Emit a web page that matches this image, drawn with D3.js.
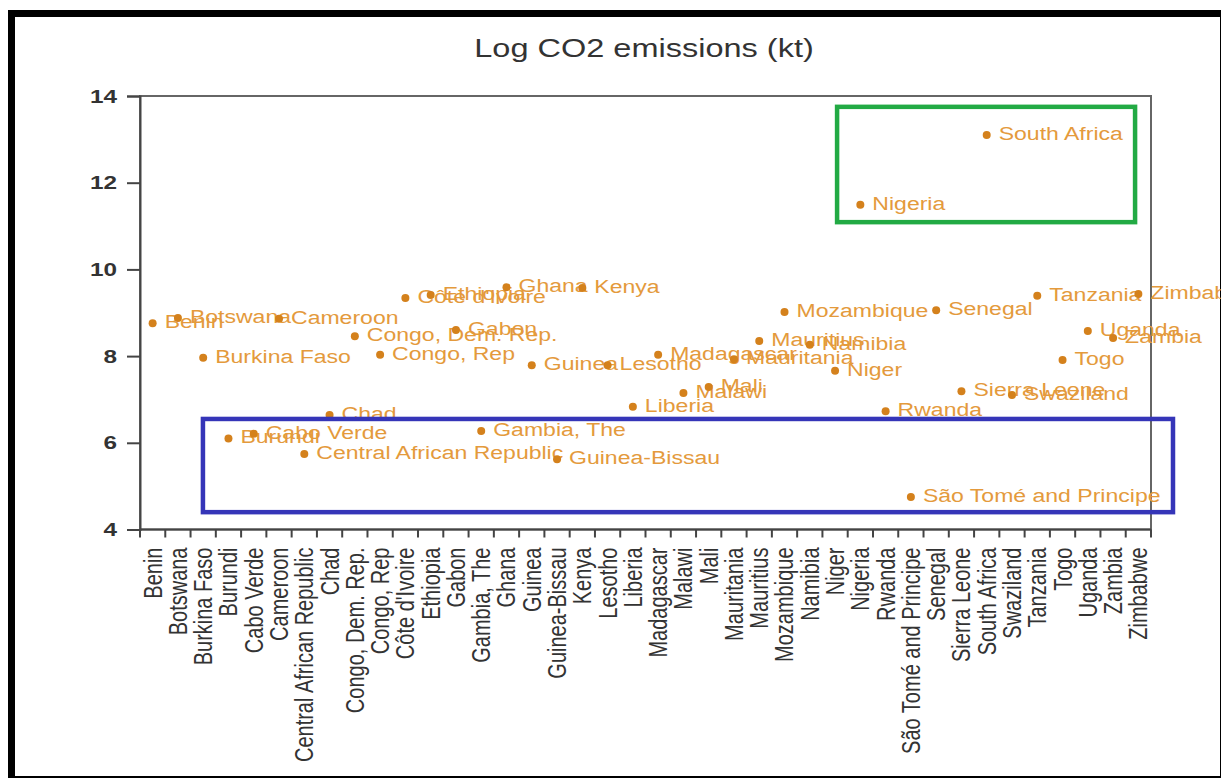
<!DOCTYPE html>
<html>
<head>
<meta charset="utf-8">
<script src="https://cdn.jsdelivr.net/npm/d3@7"></script>
<style>
html,body{margin:0;padding:0;background:#fff;}
svg{display:block;}
</style>
</head>
<body>
<svg id="chart" width="1221" height="778"></svg>
<script>
// ---- data ----
const countries = ["Benin","Botswana","Burkina Faso","Burundi","Cabo Verde","Cameroon","Central African Republic","Chad","Congo, Dem. Rep.","Congo, Rep","Côte d'Ivoire","Ethiopia","Gabon","Gambia, The","Ghana","Guinea","Guinea-Bissau","Kenya","Lesotho","Liberia","Madagascar","Malawi","Mali","Mauritania","Mauritius","Mozambique","Namibia","Niger","Nigeria","Rwanda","São Tomé and Principe","Senegal","Sierra Leone","South Africa","Swaziland","Tanzania","Togo","Uganda","Zambia","Zimbabwe"];
const pointLabels = ["Benin","Botswana","Burkina Faso","Burundi","Cabo Verde","Cameroon","Central African Republic","Chad","Congo, Dem. Rep.","Congo, Rep","Côte d'Ivoire","Ethiopia","Gabon","Gambia, The","Ghana","Guinea","Guinea-Bissau","Kenya","Lesotho","Liberia","Madagascar","Malawi","Mali","Mauritania","Mauritius","Mozambique","Namibia","Niger","Nigeria","Rwanda","São Tomé and Principe","Senegal","Sierra Leone","South Africa","Swaziland","Tanzania","Togo","Uganda","Zambia","Zimbabwe"];
const logCO2 = [8.76,8.88,7.96,6.10,6.21,8.86,5.74,6.64,8.46,8.03,9.34,9.41,8.60,6.27,9.59,7.79,5.62,9.57,7.79,6.83,8.03,7.15,7.29,7.93,8.35,9.02,8.26,7.66,11.49,6.73,4.75,9.06,7.19,13.10,7.10,9.39,7.91,8.58,8.42,9.43];
const yTicks = [4,6,8,10,12,14];
const chartTitle = "Log CO2 emissions (kt)";
// annotation boxes in data units: [x index start, x index end, y low, y high]
const greenBox = [27.58, 39.37, 11.09, 13.75];
const blueBox = [2.49, 40.87, 4.40, 6.55];

// ---- layout ----
const svg = d3.select("#chart");
const L = 140, R = 1151, T = 96, B = 529.5;
const stretch = 1.28;
const x = d3.scaleBand().domain(countries).range([L, R]).paddingInner(0).paddingOuter(0);
const xi = d3.scaleLinear().domain([0, countries.length]).range([L, R]);
const y = d3.scaleLinear().domain([4, 14]).range([B, T]);
const font = "'Liberation Sans', Arial, sans-serif";

// outer border
svg.append("rect").attr("x", 11.5).attr("y", 13.5).attr("width", 1212).attr("height", 766)
  .attr("fill", "none").attr("stroke", "#000").attr("stroke-width", 7);

// title
svg.append("text").attr("transform", `translate(644,57) scale(1.3,1)`)
  .attr("text-anchor", "middle").attr("font-family", font).attr("font-size", 25)
  .attr("fill", "#333").text(chartTitle);

// plot frame
svg.append("rect").attr("x", L).attr("y", T).attr("width", R - L).attr("height", B - T)
  .attr("fill", "none").attr("stroke", "#666").attr("stroke-width", 2);

// y axis
const yAxis = svg.append("g").attr("transform", `translate(${L},0)`)
  .call(d3.axisLeft(y).tickValues(yTicks).tickSize(13).tickPadding(10).tickFormat(d3.format("d")));
yAxis.select(".domain").attr("stroke", "#444").attr("stroke-width", 2);
yAxis.selectAll(".tick line").attr("stroke", "#444").attr("stroke-width", 2);
yAxis.selectAll(".tick text").each(function(d){
  const t = d3.select(this);
  const xx = +t.attr("x");
  t.attr("x", null).attr("transform", `translate(${xx},0) scale(${stretch},1)`)
   .attr("font-family", font).attr("font-size", 19).attr("fill", "#333").attr("font-weight", "bold");
});

// x axis (ticks at band boundaries)
const xg = svg.append("g").attr("transform", `translate(0,${B})`);
xg.append("line").attr("x1", L).attr("x2", R).attr("stroke", "#444").attr("stroke-width", 2);
xg.selectAll("line.tk").data(d3.range(countries.length + 1)).join("line").attr("class", "tk")
  .attr("x1", d => xi(d)).attr("x2", d => xi(d)).attr("y1", 0).attr("y2", 8)
  .attr("stroke", "#444").attr("stroke-width", 2);
xg.selectAll("text.lab").data(countries).join("text").attr("class", "lab")
  .attr("transform", d => `translate(${x(d) + x.bandwidth() / 2},18) scale(${stretch},1) rotate(-90)`)
  .attr("text-anchor", "end").attr("dy", "0.35em")
  .attr("font-family", font).attr("font-size", 20).attr("fill", "#333").text(d => d);

// points and labels
const pts = countries.map((c, i) => ({c, v: logCO2[i], lab: pointLabels[i]}));
const pg = svg.append("g");
pg.selectAll("text").data(pts).join("text")
  .attr("transform", d => `translate(${x(d.c) + x.bandwidth() / 2 + 12},${y(d.v) + 5}) scale(${stretch},1)`)
  .attr("font-family", font).attr("font-size", 18).attr("fill", "#E49A3C").text(d => d.lab);
pg.selectAll("circle").data(pts).join("circle")
  .attr("cx", d => x(d.c) + x.bandwidth() / 2).attr("cy", d => y(d.v)).attr("r", 4)
  .attr("fill", "#D4811C");

// annotation boxes
function box(b, color) {
  svg.append("rect").attr("x", xi(b[0])).attr("y", y(b[3]))
    .attr("width", xi(b[1]) - xi(b[0])).attr("height", y(b[2]) - y(b[3]))
    .attr("fill", "none").attr("stroke", color).attr("stroke-width", 4.5);
}
box(greenBox, "#22AA44");
box(blueBox, "#3535B8");
</script>
</body>
</html>
